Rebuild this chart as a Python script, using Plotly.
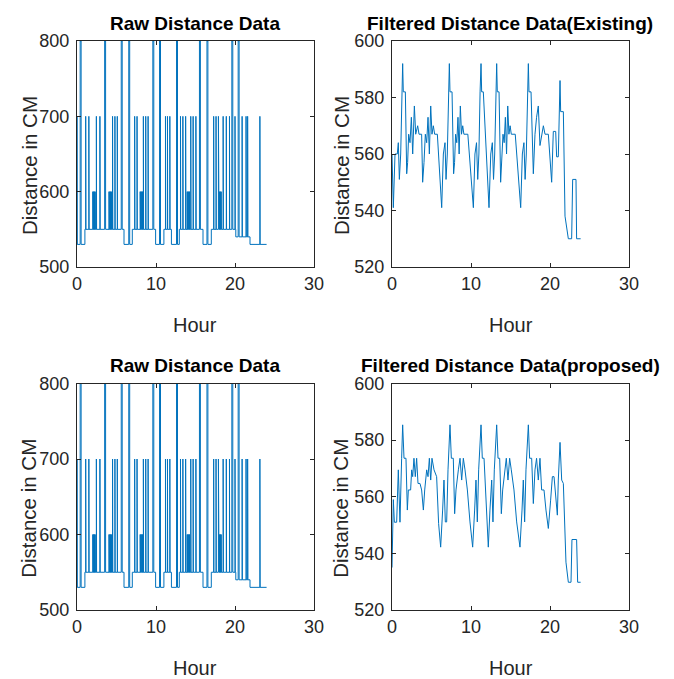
import plotly.graph_objects as go

# ---------------- data ----------------
# Raw distance data: baseline levels (start hour, level) and spikes
raw_base_start = [0.0, 1.0, 5.95, 7.0, 9.95, 11.0, 11.95, 12.95, 15.95, 17.0, 20.1, 21.9]
raw_base_level = [530, 550, 530, 550, 530, 550, 530, 550, 530, 550, 540, 530]
raw_end_hour = 24.0
raw_spike_800 = [0.4, 3.5, 5.6, 6.55, 9.6, 10.45, 12.6, 15.5, 16.45, 19.6, 20.4]
raw_spike_700 = [0.0, 1.1, 1.5, 2.45, 2.9, 4.5, 4.8, 5.1, 7.3, 7.6, 8.4, 8.7, 9.0,
                 11.2, 11.45, 11.75, 13.1, 13.4, 13.75, 14.4, 14.7, 15.05,
                 17.3, 17.6, 17.9, 18.5, 18.9, 19.3, 20.0, 20.9, 21.4, 21.6, 23.15]
raw_spike_600 = [2.0, 2.1, 2.2, 2.3, 4.05, 4.15, 4.25, 4.35, 8.0, 8.1, 8.2, 8.3,
                 13.95, 14.05, 14.15, 14.25, 17.95, 18.05, 18.15, 18.25]

exist_hour = [0.0, 0.17, 0.38, 0.67, 0.8, 0.93, 1.1, 1.22, 1.35, 1.43, 1.69, 1.86, 1.98,
              2.11, 2.28, 2.45, 2.62, 2.83, 3.0, 3.25, 3.42, 3.75, 3.88, 4.05, 4.22, 4.39,
              4.56, 4.73, 4.9, 5.06, 5.23, 5.4, 5.74, 6.29, 6.5, 6.71, 6.84, 7.0, 7.13,
              7.26, 7.34, 7.6, 7.8, 7.92, 8.05, 8.2, 8.35, 8.5, 8.65, 8.8, 8.95, 9.1, 9.6,
              10.3, 10.5, 10.7, 10.85, 11.0, 11.15, 11.27, 11.35, 11.56, 12.28, 12.5, 12.7,
              12.85, 13.0, 13.12, 13.25, 13.33, 13.55, 13.75, 13.9, 14.05, 14.2, 14.35,
              14.5, 14.65, 14.8, 14.95, 15.1, 15.6, 16.29, 16.5, 16.7, 16.85, 17.0, 17.13,
              17.26, 17.34, 17.6, 17.89, 18.1, 18.3, 18.52, 18.73, 18.94, 19.16, 19.37,
              19.79, 20.21, 20.42, 20.72, 20.84, 21.05, 21.18, 21.27, 21.35, 21.69, 21.9,
              22.32, 22.74, 22.87, 23.29, 23.37, 23.88]
exist_val = [560, 541, 560, 560, 564, 551, 560, 582, 592, 582, 582, 553, 557,
             567, 564, 573, 560, 577, 567, 570, 567, 567, 550, 557, 567, 564,
             573, 560, 577, 567, 570, 567, 567, 541, 560, 564, 551, 560, 582,
             592, 582, 582, 553, 557, 567, 564, 573, 560, 577, 567, 570, 567, 567,
             541, 560, 564, 551, 560, 582, 592, 582, 582, 541, 560, 564,
             551, 560, 582, 592, 582, 582, 550, 557, 567, 564, 573,
             560, 577, 567, 570, 567, 567, 541, 560, 564, 551, 560, 582,
             592, 582, 582, 553, 567, 573, 577, 563, 567, 570, 567,
             567, 550, 568, 568, 559, 559, 577, 586, 575, 575, 538,
             530, 530, 551, 551, 530, 530]

prop_hour = [0.0, 0.17, 0.3, 0.59, 0.8, 1.01, 1.22, 1.35, 1.52, 1.77, 1.94, 2.07, 2.36,
             2.49, 2.62, 2.78, 2.95, 3.12, 3.29, 3.54, 3.75, 3.97, 4.14, 4.39, 4.56, 4.73,
             4.9, 5.06, 5.32, 5.65, 5.9, 6.16, 6.41, 6.58, 6.75, 6.92, 7.09, 7.34, 7.51,
             7.76, 7.93, 8.1, 8.4, 8.61, 8.82, 9.03, 9.24, 9.54, 9.87, 10.21, 10.46, 10.63,
             10.8, 10.97, 11.27, 11.43, 11.65, 12.19, 12.4, 12.62, 12.78, 12.95, 13.25,
             13.42, 13.63, 13.84, 14.01, 14.26, 14.47, 14.68, 14.89, 15.1, 15.44, 15.78,
             16.2, 16.46, 16.62, 16.79, 16.96, 17.26, 17.42, 17.68, 17.89, 18.1, 18.3,
             18.52, 18.73, 18.94, 19.24, 19.49, 19.79, 20.08, 20.3, 20.51, 20.72, 20.93,
             21.05, 21.27, 21.48, 21.69, 22.02, 22.32, 22.66, 22.78, 23.37, 23.5, 23.88]
prop_val = [535, 559, 551, 551, 569.5, 551, 573.6, 585.4, 573.6, 573.6, 555.3, 562.4, 562.4,
            569.5, 567.1, 573.6, 567.1, 573.6, 564.7, 564.7, 562.4, 555.3, 562.4, 569.5, 567.1, 573.6,
            565.9, 573.6, 569.5, 567.1, 550.5, 542.2, 555.3, 565.9, 551.1, 551.1, 569.5, 585.4, 573.6,
            573.6, 554, 562.4, 569.5, 573.6, 565.9, 573.6, 569.5, 562.4, 551.1, 542.2, 555.3, 565.9,
            551.1, 569.5, 585.4, 573.6, 573.6, 542.2, 555.3, 565.9, 551.1, 569.5, 585.4,
            573.6, 573.6, 554, 562.4, 569.5, 573.6, 565.9, 573.6, 569.5, 562.4, 551.1,
            542.2, 555.3, 565.9, 551.1, 569.5, 585.4, 573.6, 573.6, 557.6, 569.5, 573.6,
            565.9, 573.6, 562.4, 562.4, 555.3, 548.8, 558.8, 567.1, 567.1, 560, 553.5,
            565.9, 579.2, 565.9, 564.7, 536.9, 529.8, 529.8, 544.9, 544.9, 529.8, 529.8]

titles = ["Raw Distance Data", "Filtered Distance Data(Existing)",
          "Raw Distance Data", "Filtered Distance Data(proposed)"]
x_label = "Hour"
y_label = "Distance in CM"
x_ticks = [0, 10, 20, 30]
raw_y_ticks = [500, 600, 700, 800]
filt_y_ticks = [520, 540, 560, 580, 600]


# ---------------- build the raw polyline from the read values ----------------
def base_at(h):
    lvl = raw_base_level[0]
    for s, l in zip(raw_base_start, raw_base_level):
        if s <= h:
            lvl = l
    return lvl


groups = []
for i in range(1, len(raw_base_start)):
    t = raw_base_start[i]
    groups.append((t, [(t, raw_base_level[i - 1]), (t, raw_base_level[i])]))
for hs, v, w in ((raw_spike_800, 800, 0.12), (raw_spike_700, 700, 0.03), (raw_spike_600, 600, 0.03)):
    for h in hs:
        b = base_at(h)
        groups.append((h, [(h, b), (h, v), (h + w, v), (h + w, b)]))
groups.sort(key=lambda g: g[0])
raw_x, raw_y = [0.0], [raw_base_level[0]]
for _, pts in groups:
    for px, py in pts:
        raw_x.append(px)
        raw_y.append(py)
raw_x.append(raw_end_hour)
raw_y.append(raw_base_level[-1])

# ---------------- figure ----------------
OFF = 8                      # default page body margin
W, H = 674 - OFF, 679 - OFF
BLUE = "#0072BD"
FONT = "Liberation Sans, Arial, sans-serif"


def px_x(p):
    return (p - OFF) / W


def px_y(p):
    return 1 - (p - OFF) / H


fig = go.Figure()
series = [(raw_x, raw_y), (exist_hour, exist_val), (raw_x, raw_y), (prop_hour, prop_val)]
for i, (xs, ys) in enumerate(series):
    sfx = "" if i == 0 else str(i + 1)
    fig.add_trace(go.Scatter(x=xs, y=ys, mode="lines", line=dict(color=BLUE, width=1),
                             xaxis="x" + sfx, yaxis="y" + sfx, showlegend=False,
                             hoverinfo="skip"))

cols = [(77, 314), (392, 629)]
rows = [(41, 267), (383.5, 610)]
axis_common = dict(showline=True, linecolor="#262626", linewidth=1, mirror="ticks",
                   ticks="inside", ticklen=4, tickcolor="#262626", showgrid=False,
                   zeroline=False, automargin=False, fixedrange=True,
                   tickfont=dict(family=FONT, size=18, color="#262626"))
layout = dict(width=W, height=H, margin=dict(l=0, r=0, t=0, b=0, pad=0),
              paper_bgcolor="white", plot_bgcolor="white", annotations=[])
for i in range(4):
    r, c = divmod(i, 2)
    sfx = "" if i == 0 else str(i + 1)
    x0, x1 = cols[c]
    y0, y1 = rows[r]
    raw = (c == 0)
    layout["xaxis" + sfx] = dict(axis_common, domain=[px_x(x0), px_x(x1)], range=[0, 30],
                                 tickvals=x_ticks, anchor="y" + sfx, ticklabelstandoff=0)
    layout["yaxis" + sfx] = dict(axis_common, domain=[px_y(y1), px_y(y0)],
                                 range=[500, 800] if raw else [520, 600],
                                 tickvals=raw_y_ticks if raw else filt_y_ticks,
                                 anchor="x" + sfx, ticklabelstandoff=3)
    layout["annotations"].append(dict(text="<b>%s</b>" % titles[i], x=px_x(195 if raw else 510),
                                      y=px_y(y0 - 18), xref="paper", yref="paper",
                                      showarrow=False, xanchor="center", yanchor="middle",
                                      font=dict(family=FONT, size=19, color="black")))
    layout["annotations"].append(dict(text=x_label, x=px_x(195 if raw else 511),
                                      y=px_y(y1 + 58), xref="paper", yref="paper",
                                      showarrow=False, xanchor="center", yanchor="middle",
                                      font=dict(family=FONT, size=20, color="#262626")))
    layout["annotations"].append(dict(text=y_label, x=px_x(29 if raw else 341),
                                      y=px_y((y0 + y1) / 2 + 12), xref="paper", yref="paper",
                                      showarrow=False, xanchor="center", yanchor="middle",
                                      textangle=-90,
                                      font=dict(family=FONT, size=20.5, color="#262626")))

fig.update_layout(**layout)
fig.write_html("out.html")
